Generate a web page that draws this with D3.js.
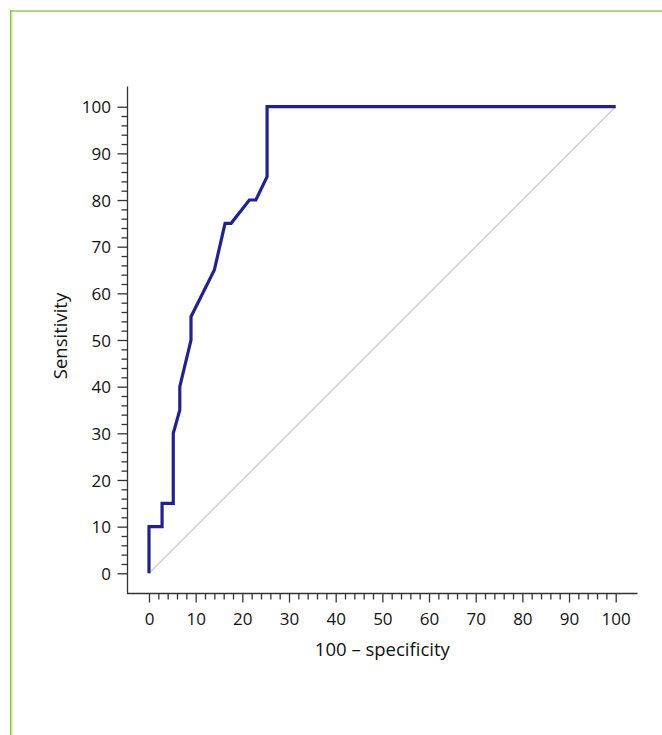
<!DOCTYPE html>
<html>
<head>
<meta charset="utf-8">
<script src="https://cdn.jsdelivr.net/npm/d3@7"></script>
<style>
  html, body { margin: 0; padding: 0; background: #fff; }
  svg { display: block; }
  text { font-family: "Open Sans", "Noto Sans", sans-serif; fill: #111; }
</style>
</head>
<body>
<script>
// ROC curve vertices: 100 - specificity (x) and sensitivity (y)
const fpr = [0, 0, 2.8, 2.8, 5.2, 5.2, 6.6, 6.6, 9.0, 9.0, 14.0, 16.3, 17.6, 21.5, 22.9, 25.3, 25.3, 100];
const tpr = [0, 10, 10, 15, 15, 30, 35, 40, 50, 55, 65, 75, 75, 80, 80, 85, 100, 100];
const refX = [0, 100];
const refY = [0, 100];
const xTicks = [0, 10, 20, 30, 40, 50, 60, 70, 80, 90, 100];
const yTicks = [0, 10, 20, 30, 40, 50, 60, 70, 80, 90, 100];
const xTitle = "100 – specificity";
const yTitle = "Sensitivity";

const W = 662, H = 735;
const svg = d3.select("body").append("svg").attr("width", W).attr("height", H);

// frame (green border at top and left)
svg.append("rect").attr("x", 10).attr("y", 10).attr("width", W - 10).attr("height", 2).attr("fill", "#acd97c");
svg.append("rect").attr("x", 10).attr("y", 10).attr("width", 1.5).attr("height", H - 10).attr("fill", "#8cc43f");
svg.append("rect").attr("x", 11.5).attr("y", 12).attr("width", 1.2).attr("height", H - 12).attr("fill", "#d3ecb6");

const x = d3.scaleLinear().domain([0, 100]).range([149, 615.7]);
const y = d3.scaleLinear().domain([0, 100]).range([573.3, 106.7]);

const axisColor = "#333";
// axis lines
svg.append("line").attr("x1", 127.5).attr("x2", 127.5).attr("y1", 86.5).attr("y2", 593.5)
  .attr("stroke", axisColor).attr("stroke-width", 1.3);
svg.append("line").attr("x1", 127).attr("x2", 637.5).attr("y1", 593.5).attr("y2", 593.5)
  .attr("stroke", axisColor).attr("stroke-width", 1.3);

// x axis ticks
const minor = d3.range(0, 101, 2).filter(v => v % 10 !== 0);
const xAxisMajor = d3.axisBottom(x).tickValues(xTicks).tickSize(9).tickFormat(d3.format("d"));
const gx = svg.append("g").attr("transform", "translate(0,593.5)").call(xAxisMajor);
gx.select(".domain").remove();
gx.selectAll(".tick line").attr("stroke", axisColor).attr("stroke-width", 1.3);
gx.selectAll(".tick text").attr("dy", null).attr("y", 31.5).style("font-size", "17px")
  .attr("font-family", "Open Sans, Noto Sans, sans-serif").attr("fill", "#111");
const gxm = svg.append("g").attr("transform", "translate(0,593.5)")
  .call(d3.axisBottom(x).tickValues(minor).tickSize(6).tickFormat(""));
gxm.select(".domain").remove();
gxm.selectAll(".tick line").attr("stroke", axisColor).attr("stroke-width", 1.3);

// y axis ticks
const yAxisMajor = d3.axisLeft(y).tickValues(yTicks).tickSize(10).tickFormat(d3.format("d"));
const gy = svg.append("g").attr("transform", "translate(127.5,0)").call(yAxisMajor);
gy.select(".domain").remove();
gy.selectAll(".tick line").attr("stroke", axisColor).attr("stroke-width", 1.3);
gy.selectAll(".tick text").attr("x", -16.5).attr("dy", "0.36em").style("font-size", "17px")
  .attr("font-family", "Open Sans, Noto Sans, sans-serif").attr("fill", "#111");
const gym = svg.append("g").attr("transform", "translate(127.5,0)")
  .call(d3.axisLeft(y).tickValues(minor).tickSize(6).tickFormat(""));
gym.select(".domain").remove();
gym.selectAll(".tick line").attr("stroke", axisColor).attr("stroke-width", 1.3);

// axis titles
svg.append("text").attr("x", (x(0) + x(100)) / 2).attr("y", 656).attr("text-anchor", "middle")
  .style("font-size", "18.5px").text(xTitle);
svg.append("text").attr("transform", `translate(67,${(y(0) + y(100)) / 2 - 4}) rotate(-90)`)
  .attr("text-anchor", "middle").style("font-size", "18.5px").text(yTitle);

// reference diagonal
const line = d3.line().x(d => x(d[0])).y(d => y(d[1]));
svg.append("path").datum(refX.map((v, i) => [v, refY[i]])).attr("d", line)
  .attr("fill", "none").attr("stroke", "#d8ced3").attr("stroke-width", 1.6);

// ROC curve
svg.append("path").datum(fpr.map((v, i) => [v, tpr[i]])).attr("d", line)
  .attr("fill", "none").attr("stroke", "#22228c").attr("stroke-width", 3.2)
  .attr("stroke-linejoin", "miter");
</script>
</body>
</html>
